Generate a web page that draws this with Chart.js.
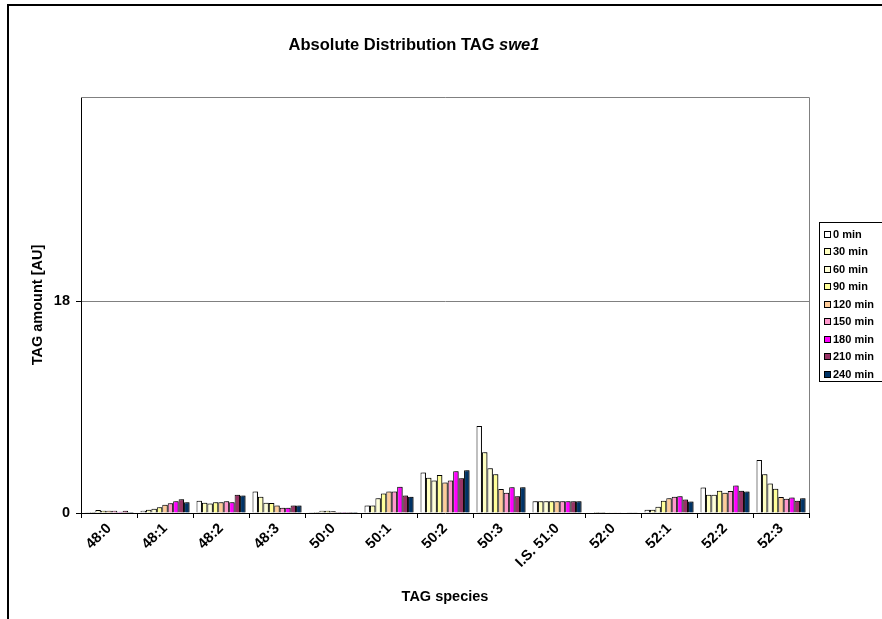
<!DOCTYPE html>
<html>
<head>
<meta charset="utf-8">
<title>Absolute Distribution TAG swe1</title>
<script src="https://cdn.jsdelivr.net/npm/chart.js@4.4.1/dist/chart.umd.min.js"></script>
<style>
  html, body { margin: 0; padding: 0; background: #fff; overflow: hidden; }
  #frame {
    position: absolute;
    left: 7px;
    top: 4px;
    width: 920px;
    height: 660px;
    border: 2px solid #000;
    background: #fff;
  }
  #chart { display: block; }
</style>
</head>
<body>
<div id="frame">
  <canvas id="chart" width="900" height="620"></canvas>
</div>
<script>
// TAG species on the x axis
const species = ['48:0', '48:1', '48:2', '48:3', '50:0', '50:1', '50:2', '50:3', 'I.S. 51:0', '52:0', '52:1', '52:2', '52:3'];

// one series per time point, values in AU
const min0   = [0.03, 0.20, 1.05, 1.82, 0.03, 0.63, 3.44, 7.41, 1.00, 0.05, 0.28, 2.16, 4.52];
const min30  = [0.09, 0.28, 0.88, 1.39, 0.09, 0.63, 3.01, 5.17, 1.00, 0.09, 0.28, 1.56, 3.30];
const min60  = [0.26, 0.37, 0.80, 0.88, 0.20, 1.25, 2.76, 3.81, 1.00, 0.09, 0.54, 1.56, 2.50];
const min90  = [0.20, 0.48, 0.91, 0.85, 0.20, 1.65, 3.24, 3.30, 1.00, 0.07, 1.05, 1.90, 2.07];
const min120 = [0.20, 0.71, 0.91, 0.63, 0.14, 1.82, 2.59, 2.05, 1.00, 0.07, 1.25, 1.73, 1.36];
const min150 = [0.20, 0.82, 0.99, 0.45, 0.09, 1.82, 2.76, 1.73, 1.00, 0.07, 1.39, 1.88, 1.22];
const min180 = [0.11, 0.99, 0.91, 0.45, 0.09, 2.24, 3.55, 2.19, 1.00, 0.05, 1.42, 2.33, 1.31];
const min210 = [0.20, 1.16, 1.56, 0.63, 0.09, 1.48, 2.95, 1.42, 1.00, 0.03, 1.14, 1.90, 1.05];
const min240 = [0.09, 0.91, 1.48, 0.63, 0.09, 1.39, 3.64, 2.19, 1.00, 0.03, 0.97, 1.82, 1.25];

const seriesLabels = ['0 min', '30 min', '60 min', '90 min', '120 min', '150 min', '180 min', '210 min', '240 min'];
const seriesColors = ['#FFFFFF', '#FFFFC0', '#FFFFD8', '#FFFF99', '#FFCC99', '#FF99CC', '#FF00FF', '#993366', '#003366'];
const seriesData = [min0, min30, min60, min90, min120, min150, min180, min210, min240];

const yTicks = [0, 18];
const yMax = 35.4;

const titleMain = 'Absolute Distribution TAG ';
const titleItalic = 'swe1';
const xTitle = 'TAG species';
const yTitle = 'TAG amount [AU]';

const FONT = 'Arial, "Liberation Sans", sans-serif';

// chart title with the italic gene name
const titlePlugin = {
  id: 'mixedTitle',
  afterDraw(chart) {
    const ctx = chart.ctx;
    ctx.save();
    ctx.fillStyle = '#000';
    ctx.textBaseline = 'middle';
    ctx.font = 'bold 16.5px ' + FONT;
    const w1 = ctx.measureText(titleMain).width;
    ctx.font = 'italic bold 16.5px ' + FONT;
    const w2 = ctx.measureText(titleItalic).width;
    const x0 = 405 - (w1 + w2) / 2;
    ctx.font = 'bold 16.5px ' + FONT;
    ctx.textAlign = 'left';
    ctx.fillText(titleMain, x0, 39);
    ctx.font = 'italic bold 16.5px ' + FONT;
    ctx.fillText(titleItalic, x0 + w1, 39);
    ctx.restore();
  }
};

// grey frame on the top and right of the plot area
const plotFrame = {
  id: 'plotFrame',
  beforeDatasetsDraw(chart) {
    const { ctx, chartArea: a } = chart;
    ctx.save();
    ctx.strokeStyle = '#808080';
    ctx.lineWidth = 1;
    ctx.beginPath();
    ctx.moveTo(a.left, a.top + 0.5);
    ctx.lineTo(a.right + 0.5, a.top + 0.5);
    ctx.lineTo(a.right + 0.5, a.bottom);
    ctx.stroke();
    ctx.restore();
  }
};

// soft shadow to the right of each bar
const barShadow = {
  id: 'barShadow',
  beforeDatasetsDraw(chart) {
    const ctx = chart.ctx;
    ctx.save();
    ctx.shadowColor = 'rgba(0,0,0,0.45)';
    ctx.shadowOffsetX = 2;
    ctx.shadowOffsetY = 0;
    ctx.shadowBlur = 0;
  },
  afterDatasetsDraw(chart) {
    chart.ctx.restore();
  }
};

// boxed legend to the right of the plot
const boxLegend = {
  id: 'boxLegend',
  afterDraw(chart) {
    const ctx = chart.ctx;
    const left = chart.chartArea.right + 10;
    const top = 216;
    const step = 17.5;
    ctx.save();
    ctx.strokeStyle = '#000';
    ctx.lineWidth = 1;
    ctx.strokeRect(left + 0.5, top + 0.5, 120, 159);
    ctx.font = 'bold 11px ' + FONT;
    ctx.textBaseline = 'middle';
    ctx.textAlign = 'left';
    chart.data.datasets.forEach((ds, i) => {
      const y = top + 12 + i * step;
      ctx.fillStyle = ds.backgroundColor;
      ctx.fillRect(left + 5, Math.round(y - 3.5), 7, 7);
      ctx.strokeStyle = '#000';
      ctx.strokeRect(left + 5.5, Math.round(y - 3.5) + 0.5, 6, 6);
      ctx.fillStyle = '#000';
      ctx.fillText(ds.label, left + 14, y + 0.5);
    });
    ctx.restore();
  }
};

const ctx = document.getElementById('chart').getContext('2d');
new Chart(ctx, {
  type: 'bar',
  data: {
    labels: species,
    datasets: seriesLabels.map((label, i) => ({
      label: label,
      data: seriesData[i],
      backgroundColor: seriesColors[i],
      borderColor: '#000',
      borderWidth: 1,
      categoryPercentage: 0.875,
      barPercentage: 1.0
    }))
  },
  options: {
    responsive: false,
    animation: false,
    layout: { padding: { top: 91, right: 100, left: 0, bottom: 0 } },
    plugins: {
      legend: { display: false },
      title: { display: false },
      tooltip: { enabled: false }
    },
    scales: {
      x: {
        afterFit: scale => { scale.height = 113; },
        grid: {
          offset: true,
          drawOnChartArea: false,
          drawTicks: true,
          tickLength: 5,
          tickColor: '#000'
        },
        border: { color: '#000', width: 1 },
        ticks: {
          autoSkip: false,
          minRotation: 45,
          maxRotation: 45,
          padding: 2,
          color: '#000',
          font: { family: FONT, size: 14.5, weight: 'bold' }
        },
        title: {
          display: true,
          text: xTitle,
          color: '#000',
          font: { family: FONT, size: 14.5, weight: 'bold' },
          padding: { top: 0, bottom: 20 }
        }
      },
      y: {
        min: 0,
        max: yMax,
        afterFit: scale => { scale.width = 72; },
        afterBuildTicks: scale => { scale.ticks = yTicks.map(v => ({ value: v })); },
        grid: {
          color: c => (c.tick && c.tick.value === 18 ? '#808080' : 'rgba(0,0,0,0)'),
          tickColor: '#000',
          tickLength: 5,
          drawTicks: true
        },
        border: { color: '#000', width: 1 },
        ticks: {
          padding: 6,
          color: '#000',
          font: { family: FONT, size: 14.5, weight: 'bold' }
        },
        title: {
          display: true,
          text: yTitle,
          color: '#000',
          font: { family: FONT, size: 14.5, weight: 'bold' },
          padding: { top: 20, bottom: 0 }
        }
      }
    }
  },
  plugins: [plotFrame, barShadow, titlePlugin, boxLegend]
});
</script>
</body>
</html>
